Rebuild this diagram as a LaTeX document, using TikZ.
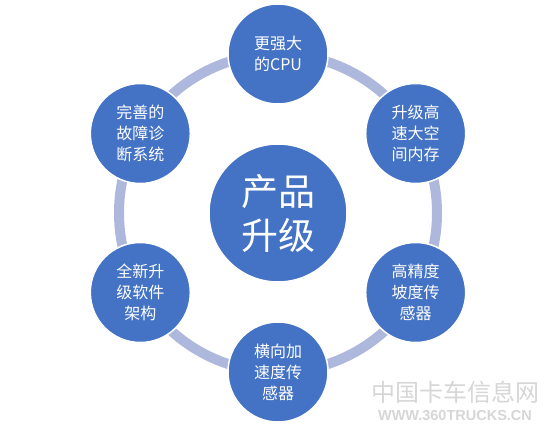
\documentclass[tikz,border=0pt]{standalone}
\usepackage{fontspec}
\newfontfamily\cjk{Noto Sans CJK SC}
\newfontfamily\wmlatin{Liberation Sans}
\usepackage{tikz}
\usetikzlibrary{calc, positioning}
\definecolor{PU_BLUE}{HTML}{4472C4}
\definecolor{PU_RING}{HTML}{AEB8DC}
\definecolor{PU_MARK}{HTML}{D6D6D6}
\tikzset{
  hub/.style={
    circle, minimum size=138pt, inner sep=0pt,
    text centered, align=center,
    draw=white, line width=1.5pt, fill=PU_BLUE, text=white,
    font=\cjk\fontsize{37}{44}\selectfont},
  feat/.style={
    circle, minimum size=100pt, inner sep=0pt,
    text centered, align=center,
    draw=white, line width=1.5pt, fill=PU_BLUE, text=white,
    font=\cjk\fontsize{16}{21}\selectfont},
  ring/.style={line width=10pt, color=PU_RING},
  wmark/.style={color=PU_MARK, inner sep=0pt},
}
\begin{document}
\begin{tikzpicture}[x=1pt, y=-1pt]

  \useasboundingbox (0,0) rectangle (548,434);

  \coordinate (mid) at (278,213);

  % ring behind the circles
  \draw[ring] (mid) circle (159pt);

  \node[hub] (core) at (mid) {产品\\升级};

  \node[feat] (cpu)  at ($(mid)+(0,-159)$)       {更强大\\的CPU};
  \node[feat] (mem)  at ($(mid)+(137.7,-79.5)$)  {升级高\\速大空\\间内存};
  \node[feat] (grad) at ($(mid)+(137.7,79.5)$)   {高精度\\坡度传\\感器};
  \node[feat] (lat)  at ($(mid)+(0,159)$)        {横向加\\速度传\\感器};
  \node[feat] (soft) at ($(mid)+(-137.7,79.5)$)  {全新升\\级软件\\架构};
  \node[feat] (diag) at ($(mid)+(-137.7,-79.5)$) {完善的\\故障诊\\断系统};

  % watermark
  \node[wmark, font=\cjk\fontsize{24}{24}\selectfont] (wmcn) at (455,392) {中国卡车信息网};
  \node[wmark, font=\wmlatin\bfseries\fontsize{14.5}{14.5}\selectfont, below=7pt of wmcn] (wmen) {WWW.360TRUCKS.CN};

\end{tikzpicture}
\end{document}
